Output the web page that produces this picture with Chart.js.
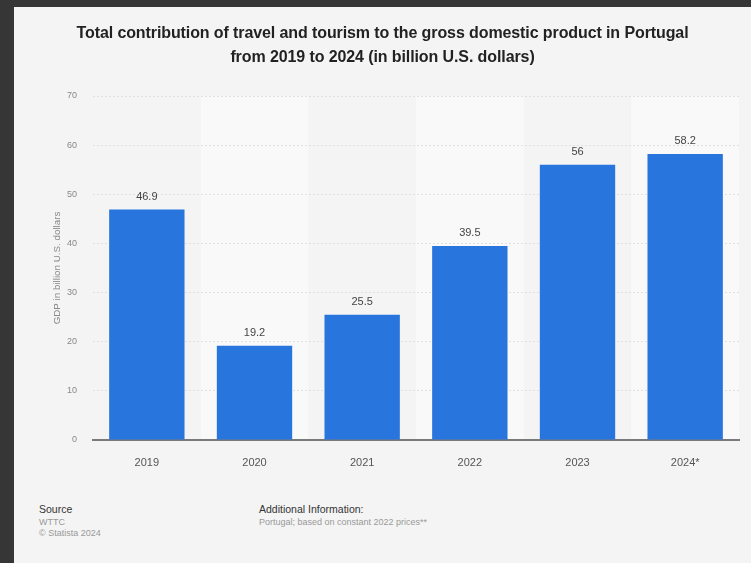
<!DOCTYPE html>
<html>
<head>
<meta charset="utf-8">
<script src="https://cdn.jsdelivr.net/npm/chart.js@4"></script>
<style>
  html, body { margin: 0; padding: 0; }
  body { width: 751px; height: 563px; background: #363636; position: relative; overflow: hidden; font-family: "Liberation Sans", Arial, sans-serif; }
  .card { position: absolute; left: 14px; top: 7px; width: 737px; height: 556px; background: #f4f4f4; }
  .title { position: absolute; left: 0; top: 14px; width: 737px; text-align: center; font-weight: bold; font-size: 16px; line-height: 24px; color: #222; letter-spacing: -0.1px; }
  .chart-box { position: absolute; left: 0; top: 0; width: 737px; height: 470px; }
  .foot { position: absolute; font-size: 9px; line-height: 11.5px; color: #999; }
  .foot b { font-weight: normal; color: #333; font-size: 10.5px; }
</style>
</head>
<body>
<div class="card">
  <div class="chart-box"><canvas id="gdp-chart"></canvas></div>
  <div class="title">Total contribution of travel and tourism to the gross domestic product in Portugal<br>from 2019 to 2024 (in billion U.S. dollars)</div>
  <div class="foot" style="left:25px; top:497px;"><b>Source</b><br>WTTC<br>© Statista 2024</div>
  <div class="foot" style="left:245px; top:497px;"><b>Additional Information:</b><br>Portugal; based on constant 2022 prices**</div>
</div>
<script>
const years = ["2019", "2020", "2021", "2022", "2023", "2024*"];
const gdpValues = [46.9, 19.2, 25.5, 39.5, 56, 58.2];
const yTicks = [0, 10, 20, 30, 40, 50, 60, 70];

// lighter column bands behind every second category, drawn before the grid
const bandsPlugin = {
  id: "bands",
  beforeDraw(chart) {
    const { ctx, chartArea, scales } = chart;
    const x = scales.x;
    const w = x.width / years.length;
    ctx.save();
    ctx.fillStyle = "#f9f9f9";
    years.forEach((y, i) => {
      if (i % 2 === 0) return;
      const left = x.getPixelForValue(i) - w / 2;
      ctx.fillRect(left, chartArea.top, w, chartArea.bottom - chartArea.top);
    });
    ctx.restore();
  },
};

const valueLabels = {
  id: "valueLabels",
  afterDatasetsDraw(chart) {
    const { ctx } = chart;
    const meta = chart.getDatasetMeta(0);
    ctx.save();
    ctx.font = "11px 'Liberation Sans', Arial, sans-serif";
    ctx.fillStyle = "#444";
    ctx.textAlign = "center";
    ctx.textBaseline = "middle";
    meta.data.forEach((bar, i) => {
      ctx.fillText(String(gdpValues[i]), bar.x, bar.y - 13);
    });
    ctx.restore();
  }
};

const ctx = document.getElementById("gdp-chart");

const gdpChart = new Chart(ctx, {
  type: "bar",
  data: {
    labels: years,
    datasets: [
      {
        data: gdpValues,
        backgroundColor: "#2876dd",
        borderWidth: 0,
        barPercentage: 0.7,
        categoryPercentage: 1,
      },
    ],
  },
  options: {
    responsive: true,
    maintainAspectRatio: false,
    animation: false,
    layout: { padding: { top: 89, right: 12, left: 0, bottom: 0 } },
    plugins: {
      legend: { display: false },
      tooltip: { enabled: false },
    },
    scales: {
      x: {
        grid: { display: false },
        border: { display: true, color: "#7a7a7a", width: 2 },
        ticks: { color: "#555", font: { size: 11, family: "'Liberation Sans', Arial, sans-serif" }, padding: 8 },
        afterFit: (scale) => { scale.height = 37; },
      },
      y: {
        min: 0,
        max: 70,
        afterBuildTicks: (scale) => { scale.ticks = yTicks.map((v) => ({ value: v })); },
        grid: { color: "#e0e0e0", drawTicks: false, lineWidth: 1 },
        border: { display: false, dash: [2, 2] },
        ticks: { color: "#888", font: { size: 9, family: "'Liberation Sans', Arial, sans-serif" }, padding: 16 },
        title: {
          display: true,
          text: "GDP in billion U.S. dollars",
          color: "#888",
          font: { size: 9.8, family: "'Liberation Sans', Arial, sans-serif" },
          padding: { top: 37, bottom: 0 },
        },
        afterFit: (scale) => { scale.width = 79; },
      },
    },
  },
  plugins: [bandsPlugin, valueLabels],
});
</script>
</body>
</html>
